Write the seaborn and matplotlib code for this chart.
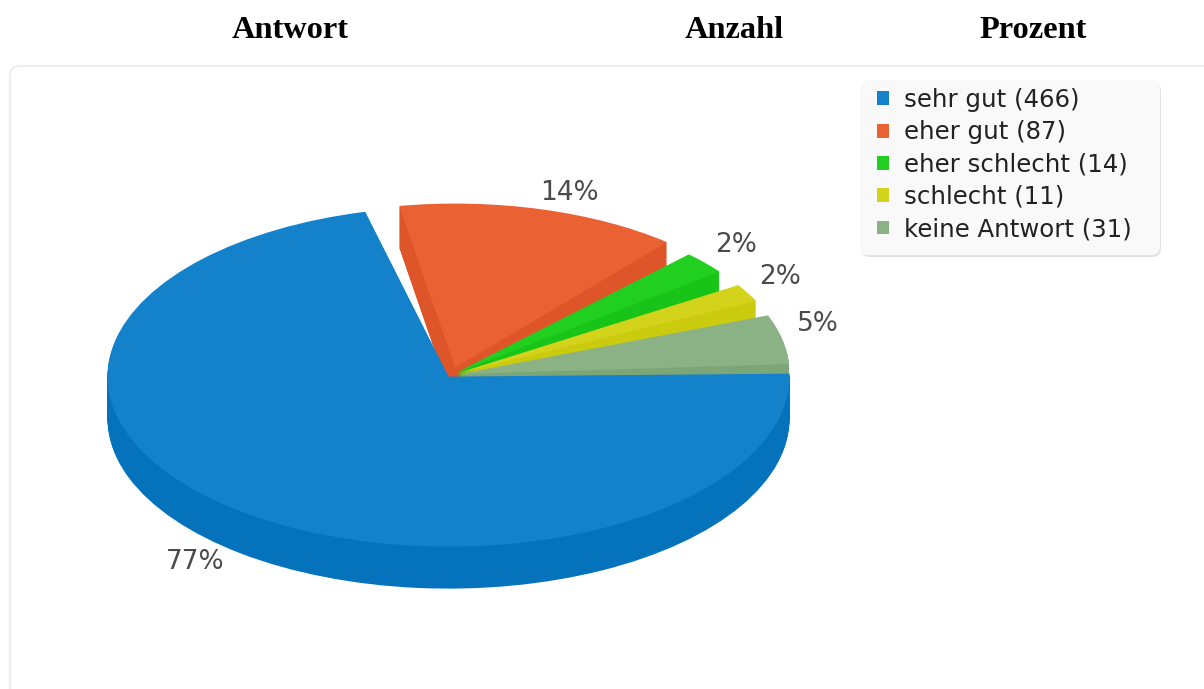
import matplotlib
matplotlib.use("Agg")
import matplotlib.pyplot as plt
import seaborn as sns
from matplotlib.patches import FancyBboxPatch, Patch
from matplotlib.transforms import Affine2D

W, H = 1204, 689

headers = ["Antwort", "Anzahl", "Prozent"]
answers = ["sehr gut", "eher gut", "eher schlecht", "schlecht", "keine Antwort"]
counts = [466, 87, 14, 11, 31]
percents = [77, 14, 2, 2, 5]

# the drawn slices are not proportional to the counts, so these are the sweeps read off the picture
slice_sweeps = [257, 49.9, 8, 6.3, 17.4]
slice_gaps = [4.4, 4.3, 5.4, 5, 2.5]
slice_explode = [0.012, 0.045, 0.02, 0.02, 0.025]
slice_radius = [1.0, 0.965, 0.975, 0.975, 0.969]
paint_order = [5, 1, 2, 3, 4]

top_colors = ["#1481cb", "#ea6133", "#21cf21", "#d3d31b", "#8ab284"]
wall_colors = ["#0572bc", "#dd5528", "#18c418", "#caca0e", "#7da678"]

CX, CY, RX, RY, DEPTH = 451, 375, 341, 170, 42

sns.set_theme(style="white")
plt.rcParams["font.family"] = ["DejaVu Sans"]
top_palette = sns.color_palette(top_colors)
wall_palette = sns.color_palette(wall_colors)

fig = plt.figure(figsize=(W / 100, H / 100), dpi=100, facecolor="white")
ax = fig.add_axes([0, 0, 1, 1])

px = Affine2D().scale(1 / W, -1 / H).translate(0, 1) + fig.transFigure


def rounded_box(x, y, w, h, radius, face, edge="none", lw=0, z=-5):
    ax.add_patch(FancyBboxPatch((x, y), w, h, boxstyle=f"round,pad=0,rounding_size={radius}",
                                transform=px, facecolor=face, edgecolor=edge, linewidth=lw,
                                zorder=z, clip_on=False))


# card behind the chart, runs off the right and bottom of the picture
rounded_box(10, 66, 1300, 800, 10, "white", "#eeeeee", 1.6, -5)

values = []
explode = []
for sweep, gap, exp in zip(slice_sweeps, slice_gaps, slice_explode):
    values += [sweep, gap]
    explode += [exp, 0]


def draw_layer(offset, palette, z_add):
    colors = []
    for c in palette:
        colors += [c, "white"]
    wedges, _ = ax.pie(values, colors=colors, startangle=1, counterclock=False, explode=explode,
                       center=(0, -offset / RY), wedgeprops={"linewidth": 0})
    for i, w in enumerate(wedges):
        if i % 2 == 1:
            w.set_visible(False)
        else:
            w.set_radius(slice_radius[i // 2])
            w.set_zorder(paint_order[i // 2] + z_add)


for depth in range(DEPTH, 0, -1):
    draw_layer(depth, wall_palette, 0)
draw_layer(0, top_palette, 0.5)

ax.set_aspect("auto")
ax.set_xlim(-CX / RX, (W - CX) / RX)
ax.set_ylim((CY - H) / RY, CY / RY)
ax.axis("off")

# header row of the table
for text, x in zip(headers, [290, 734, 1033]):
    ax.text(x, 31, text, transform=px, ha="center", va="center", family="Liberation Serif",
            fontweight="bold", fontsize=23.3, color="black")

# percent labels
label_pos = [(195, 562), (569, 193), (736, 245), (780, 277), (818, 324)]
for p, (x, y) in zip(percents, label_pos):
    ax.text(x, y, f"{p}%", transform=px, ha="center", va="center", fontsize=19, color="#4a4a4a")

# legend box is drawn by hand since its padding differs left/right and top/bottom
rounded_box(861, 82, 300, 175, 9, "#e2e2e2", z=9)
rounded_box(860, 80, 300, 175, 9, "#f9f9f9", z=9.5)

handles = [Patch(facecolor=c, linewidth=0) for c in top_palette]
labels = [f"{a} ({n})" for a, n in zip(answers, counts)]
leg = ax.legend(handles, labels, loc="upper left", bbox_to_anchor=(877 / W, 1 - 88 / H),
                bbox_transform=fig.transFigure, fontsize=17.6, frameon=False, borderaxespad=0,
                borderpad=0, handlelength=0.49, handleheight=0.49, handletextpad=0.6,
                labelspacing=0.34, labelcolor="#222222")
leg.set_zorder(10)

fig.savefig("out.png", dpi=100)
